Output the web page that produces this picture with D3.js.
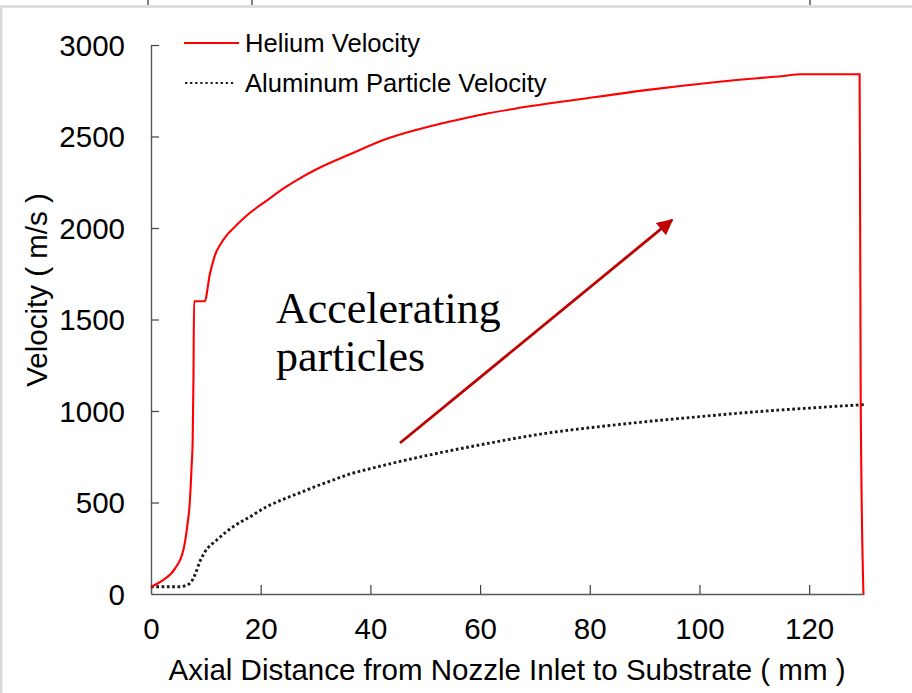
<!DOCTYPE html>
<html>
<head>
<meta charset="utf-8">
<script src="https://cdn.jsdelivr.net/npm/d3@7/dist/d3.min.js"></script>
<style>
  body { margin: 0; background: #fff; }
  svg { display: block; }
</style>
</head>
<body>
<svg id="chart" width="912" height="693"></svg>
<script>
// Axial distance (mm) and gas velocity (m/s) of helium along the nozzle
const heliumX = [0, 2.2, 4.4, 5.9, 6.6, 7.1, 7.4, 7.6, 7.75, 7.85, 9.85, 10.27, 10.64, 11.07, 11.67, 12.58, 13.8, 15.0, 16.5, 18.06, 21.1, 24.1, 26.6, 30.0, 36.3, 42.4, 48.5, 54.5, 60.6, 66.7, 78.8, 91.0, 103.2, 115.3, 118.5, 129.2, 129.4, 129.9];
const heliumV = [40, 76, 140, 240, 368, 514, 696, 842, 1200, 1600, 1600, 1661, 1734, 1789, 1852, 1907, 1960, 1998, 2042, 2083, 2150, 2215, 2262, 2318, 2403, 2481, 2537, 2582, 2622, 2654, 2706, 2756, 2798, 2831, 2840, 2840, 1050, 0];

// Aluminum particle velocity (m/s) along the same axis
const aluminumX = [0, 5.3, 7.1, 8.0, 8.9, 9.85, 12.0, 15.0, 18.06, 21.1, 24.1, 27.2, 30.2, 33.2, 36.3, 39.3, 42.4, 45.2, 50, 60, 72, 84, 100, 110, 120, 130];
const aluminumV = [40, 40, 58, 104, 177, 231, 295, 368, 422, 477, 517, 554, 590, 623, 656, 680, 703, 723, 755, 815, 878, 922, 969, 995, 1016, 1035];

const xTicks = [0, 20, 40, 60, 80, 100, 120];
const yTicks = [0, 500, 1000, 1500, 2000, 2500, 3000];

const seriesNames = ["Helium Velocity", "Aluminum Particle Velocity"];
const xTitle = "Axial Distance from Nozzle Inlet to Substrate ( mm )";
const yTitle = "Velocity ( m/s )";
const noteLines = ["Accelerating", "particles"];
// arrow annotation, in data units: [distance, velocity]
const arrowFrom = [45.4, 825];
const arrowTo = [95.0, 2044];

const svg = d3.select("#chart");
const sans = "'Liberation Sans', Arial, sans-serif";
const labelSize = 29.5;

// outer frame and the marks peeking in from above
svg.append("rect")
  .attr("x", 1.25).attr("y", 6.5)
  .attr("width", 1000).attr("height", 1000)
  .attr("fill", "none").attr("stroke", "#d9d9d9").attr("stroke-width", 2.5);
[148, 252, 810].forEach(px => {
  svg.append("line").attr("x1", px).attr("x2", px).attr("y1", 0).attr("y2", 5)
    .attr("stroke", "#000").attr("stroke-width", 1);
});

const x = d3.scaleLinear().domain([0, 130]).range([151, 864]);
const y = d3.scaleLinear().domain([0, 3000]).range([594, 45]);

// axes with inward ticks
const gx = svg.append("g").attr("transform", `translate(0,${y(0)})`)
  .call(d3.axisBottom(x).tickValues(xTicks).tickFormat(d3.format("d"))
    .tickSize(-9).tickSizeOuter(0).tickPadding(0));
const gy = svg.append("g").attr("transform", `translate(${x(0)},0)`)
  .call(d3.axisLeft(y).tickValues(yTicks).tickFormat(d3.format("d"))
    .tickSize(-8).tickSizeOuter(0).tickPadding(26));

[gx, gy].forEach(g => {
  g.select(".domain").attr("stroke", "#595959").attr("stroke-width", 1.4);
  g.selectAll(".tick line").attr("stroke", "#404040").attr("stroke-width", 1.2);
  g.selectAll(".tick text").attr("font-family", sans).attr("font-size", labelSize).attr("fill", "#000");
});
gx.selectAll(".tick text").attr("y", 45).attr("dy", 0);
gy.selectAll(".tick text").attr("dy", "0.35em");
gy.selectAll(".tick").filter(d => d === 0).select("line").remove();

// axis titles
svg.append("text").attr("x", 507).attr("y", 680)
  .attr("text-anchor", "middle").attr("font-family", sans).attr("font-size", labelSize)
  .attr("fill", "#000").text(xTitle);
svg.append("text").attr("transform", "translate(47,290) rotate(-90)")
  .attr("text-anchor", "middle").attr("font-family", sans).attr("font-size", labelSize)
  .attr("fill", "#000").text(yTitle);

// series lines
const line = d3.line().x(d => x(d[0])).y(d => y(d[1])).curve(d3.curveMonotoneX);
const heliumPts = heliumX.map((d, i) => [d, heliumV[i]]);
const aluminumPts = aluminumX.map((d, i) => [d, aluminumV[i]]);

svg.append("path").datum(aluminumPts).attr("d", line)
  .attr("fill", "none").attr("stroke", "#1a1a1a").attr("stroke-width", 2.9)
  .attr("stroke-dasharray", "2.7,2.6");
svg.append("path").datum(heliumPts).attr("d", line)
  .attr("fill", "none").attr("stroke", "#ff0000").attr("stroke-width", 2.1)
  .attr("stroke-linejoin", "miter");

// legend
const legend = svg.append("g");
legend.append("line").attr("x1", 184).attr("x2", 239).attr("y1", 43).attr("y2", 43)
  .attr("stroke", "#ff0000").attr("stroke-width", 2);
legend.append("text").attr("x", 245).attr("y", 52).attr("font-family", sans)
  .attr("font-size", 25.6).attr("fill", "#000").text(seriesNames[0]);
legend.append("line").attr("x1", 185).attr("x2", 236).attr("y1", 83).attr("y2", 83)
  .attr("stroke", "#1a1a1a").attr("stroke-width", 2.2)
  .attr("stroke-dasharray", "2.2,2.9");
legend.append("text").attr("x", 245).attr("y", 92).attr("font-family", sans)
  .attr("font-size", 25.6).attr("fill", "#000").text(seriesNames[1]);

// annotation text
const note = svg.append("text").attr("font-family", "'Liberation Serif', 'Times New Roman', serif")
  .attr("font-size", 44).attr("fill", "#000");
noteLines.forEach((t, i) => {
  note.append("tspan").attr("x", 276).attr("y", 323 + i * 48).text(t);
});

// annotation arrow
svg.append("defs").append("marker")
  .attr("id", "head").attr("viewBox", "0 0 10 10").attr("refX", 9).attr("refY", 5)
  .attr("markerUnits", "userSpaceOnUse").attr("markerWidth", 20).attr("markerHeight", 16)
  .attr("orient", "auto")
  .append("path").attr("d", "M0,0 L10,5 L0,10 Z").attr("fill", "#c00000");
svg.append("line")
  .attr("x1", x(arrowFrom[0])).attr("y1", y(arrowFrom[1]))
  .attr("x2", x(arrowTo[0])).attr("y2", y(arrowTo[1]))
  .attr("stroke", "#c00000").attr("stroke-width", 2.8)
  .attr("marker-end", "url(#head)");
</script>
</body>
</html>
